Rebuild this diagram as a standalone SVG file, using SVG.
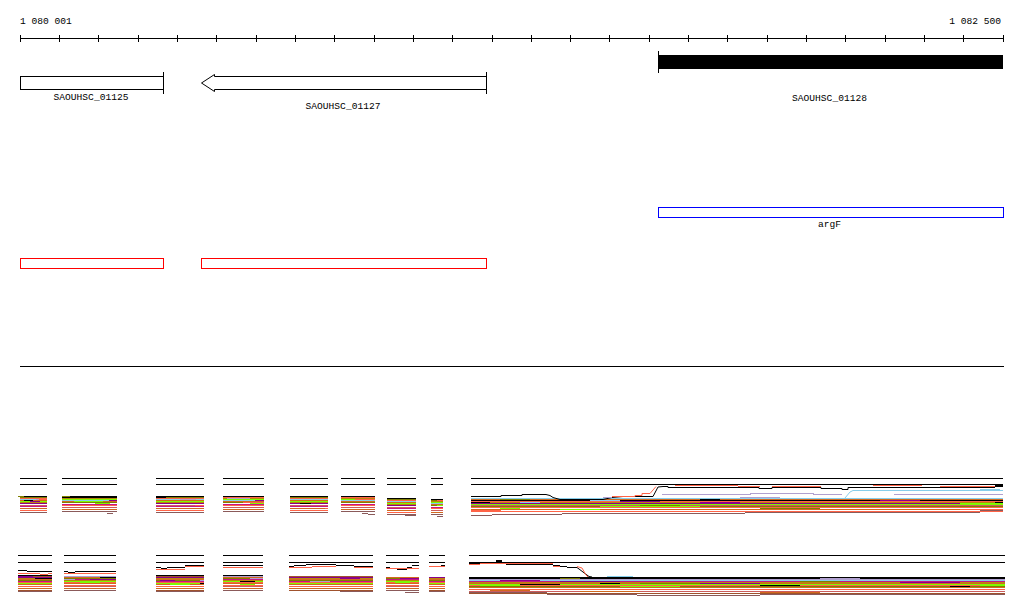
<svg xmlns="http://www.w3.org/2000/svg" width="1024" height="611" viewBox="0 0 1024 611">
<style>
text{font-family:"Liberation Mono","DejaVu Sans Mono",monospace;font-size:9.6px;fill:#000}
.c{text-anchor:middle}
.k{stroke:#000;stroke-width:1;fill:none}
.t{stroke:#ff6347;stroke-width:1;fill:none}
.lv{stroke:#b0a0d0;stroke-width:1;fill:none}
.sb{stroke:#87ceeb;stroke-width:1;fill:none}
.br{stroke:#8b5a5a;stroke-width:1;fill:none}
.g{stroke:#7cfc00;stroke-width:1;fill:none}
.ch{stroke:#d2691e;stroke-width:1;fill:none}
.pu{stroke:#8b008b;stroke-width:1;fill:none}
.ol{stroke:#808000;stroke-width:1;fill:none}
svg *{shape-rendering:crispEdges}
</style>
<defs>
<pattern id="pu1" patternUnits="userSpaceOnUse" x="0" y="496" width="4" height="30">
<rect y="0" width="4" height="1" fill="#000"/><rect y="1" width="4" height="1" fill="#808000"/><rect y="2" width="4" height="1" fill="#ff6347"/><rect y="3" width="4" height="1" fill="#87ceeb"/><rect y="4" width="4" height="1" fill="#d2691e"/><rect y="5" width="4" height="1" fill="#7cfc00"/><rect y="6" width="4" height="1" fill="#b8860b"/><rect y="7" width="4" height="1" fill="#8b008b"/><rect y="9" width="4" height="1" fill="#cd5c5c"/><rect y="10" width="4" height="1" fill="#c71585"/><rect y="12" width="4" height="1" fill="#d2691e"/><rect y="14" width="4" height="1" fill="#ff6347"/><rect y="16" width="4" height="1" fill="#8b5a5a"/>
</pattern>
<pattern id="pu2" patternUnits="userSpaceOnUse" x="0" y="496" width="4" height="30">
<rect y="0" width="4" height="1" fill="#000"/><rect y="1" width="4" height="1" fill="#ff6347"/><rect y="2" width="4" height="1" fill="#b8860b"/><rect y="3" width="4" height="1" fill="#7cfc00"/><rect y="4" width="4" height="1" fill="#87ceeb"/><rect y="5" width="4" height="1" fill="#d2691e"/><rect y="6" width="4" height="1" fill="#808000"/><rect y="8" width="4" height="1" fill="#c71585"/><rect y="9" width="4" height="1" fill="#ff6347"/><rect y="11" width="4" height="1" fill="#cd5c5c"/><rect y="13" width="4" height="1" fill="#d2691e"/><rect y="15" width="4" height="1" fill="#8b5a5a"/>
</pattern>
<pattern id="pu3" patternUnits="userSpaceOnUse" x="0" y="498" width="4" height="30">
<rect y="0" width="4" height="1" fill="#87ceeb"/><rect y="1" width="4" height="1" fill="#d2691e"/><rect y="2" width="4" height="1" fill="#000"/><rect y="3" width="4" height="1" fill="#ff6347"/><rect y="4" width="4" height="1" fill="#b8860b"/><rect y="5" width="4" height="1" fill="#8b008b"/><rect y="6" width="4" height="1" fill="#7cfc00"/><rect y="7" width="4" height="1" fill="#cd5c5c"/><rect y="8" width="4" height="1" fill="#808000"/><rect y="9" width="4" height="1" fill="#ff6347"/><rect y="11" width="4" height="1" fill="#d2691e"/><rect y="13" width="4" height="1" fill="#ff6347"/>
</pattern>
<pattern id="pl1" patternUnits="userSpaceOnUse" x="0" y="575" width="4" height="30">
<rect y="0" width="4" height="1" fill="#000"/><rect y="1" width="4" height="1" fill="#a0522d"/><rect y="2" width="4" height="1" fill="#8b008b"/><rect y="3" width="4" height="1" fill="#b8860b"/><rect y="4" width="4" height="1" fill="#d2691e"/><rect y="5" width="4" height="1" fill="#808000"/><rect y="6" width="4" height="1" fill="#c71585"/><rect y="7" width="4" height="1" fill="#ff6347"/><rect y="8" width="4" height="1" fill="#7cfc00"/><rect y="9" width="4" height="1" fill="#d2691e"/><rect y="11" width="4" height="1" fill="#ff6347"/><rect y="13" width="4" height="1" fill="#d2691e"/><rect y="15" width="4" height="1" fill="#a0522d"/><rect y="16" width="4" height="1" fill="#8b5a5a"/>
</pattern>
<pattern id="pl2" patternUnits="userSpaceOnUse" x="0" y="575" width="4" height="30">
<rect y="0" width="4" height="1" fill="#000"/><rect y="1" width="4" height="1" fill="#b0a0d0"/><rect y="2" width="4" height="1" fill="#d2691e"/><rect y="3" width="4" height="1" fill="#808000"/><rect y="4" width="4" height="1" fill="#c71585"/><rect y="5" width="4" height="1" fill="#b8860b"/><rect y="6" width="4" height="1" fill="#7cfc00"/><rect y="7" width="4" height="1" fill="#ff6347"/><rect y="8" width="4" height="1" fill="#d2691e"/><rect y="10" width="4" height="1" fill="#ff6347"/><rect y="11" width="4" height="1" fill="#cd5c5c"/><rect y="13" width="4" height="1" fill="#d2691e"/><rect y="15" width="4" height="1" fill="#8b5a5a"/>
</pattern>
<pattern id="pl3" patternUnits="userSpaceOnUse" x="0" y="579" width="4" height="30">
<rect y="0" width="4" height="1" fill="#b0a0d0"/><rect y="1" width="4" height="1" fill="#87ceeb"/><rect y="2" width="4" height="1" fill="#c71585"/><rect y="3" width="4" height="1" fill="#b8860b"/><rect y="4" width="4" height="1" fill="#d2691e"/><rect y="5" width="4" height="1" fill="#7cfc00"/><rect y="6" width="4" height="1" fill="#ff6347"/><rect y="7" width="4" height="1" fill="#808000"/><rect y="8" width="4" height="1" fill="#d2691e"/><rect y="10" width="4" height="1" fill="#ff6347"/><rect y="12" width="4" height="1" fill="#cd5c5c"/><rect y="14" width="4" height="1" fill="#a0522d"/>
</pattern>
</defs>
<rect width="1024" height="611" fill="#fff"/>

<g id="axis">
<text x="20" y="24">1 080 001</text>
<text x="1001" y="24" text-anchor="end">1 082 500</text>
<path class="k" d="M20 38.5H1003.5"/>
<path class="k" d="M20.5 35v7M59.5 35v7M98.5 35v7M138.5 35v7M177.5 35v7M216.5 35v7M256.5 35v7M295.5 35v7M334.5 35v7M374.5 35v7M413.5 35v7M452.5 35v7M492.5 35v7M531.5 35v7M570.5 35v7M609.5 35v7M649.5 35v7M688.5 35v7M727.5 35v7M767.5 35v7M806.5 35v7M845.5 35v7M885.5 35v7M924.5 35v7M963.5 35v7M1003.5 35v7"/>
</g>

<g id="connectors"></g>

<g id="gene-SAOUHSC_01125">
<rect x="20.5" y="76.5" width="143" height="13" fill="#fff" stroke="#000"/>
<path class="k" d="M163.5 72V94"/>
<text class="c" x="91" y="100">SAOUHSC_01125</text>
</g>
<g id="gene-SAOUHSC_01127">
<path d="M201.5 83L214.5 74.5V76.5H486.5V89.5H214.5V91.5Z" fill="#fff" stroke="#000" style="shape-rendering:auto"/>
<path class="k" d="M486.5 72V94"/>
<text class="c" x="343" y="109">SAOUHSC_01127</text>
</g>
<g id="gene-SAOUHSC_01128">
<rect x="658" y="55" width="345" height="14" fill="#000"/>
<path class="k" d="M658.5 51V73"/>
<text class="c" x="829.5" y="101">SAOUHSC_01128</text>
</g>
<g id="feature-argF">
<rect x="658.5" y="207.5" width="344.5" height="10" fill="none" stroke="#0000ff"/>
<text class="c" x="829.5" y="227">argF</text>
</g>
<g id="feature-red-1">
<rect x="20.5" y="258.5" width="143" height="10" fill="none" stroke="#ff0000"/>
</g>
<g id="feature-red-2">
<rect x="201.5" y="258.5" width="285" height="10" fill="none" stroke="#ff0000"/>
</g>
<g id="separator">
<path class="k" d="M20 366.5H1003.5"/>
</g>

<g id="upper-alignment">
<path class="k" d="M20 478.5H47M20 484.5H47M62 478.5H117M62 484.5H117M156 478.5H204M156 484.5H204M223 478.5H264M223 484.5H264M290 478.5H328M290 484.5H328M341 478.5H375M341 484.5H375M387 478.5H416M387 484.5H416M431 478.5H443M431 484.5H443M471 478.5H1003M471 484.5H1003"/>
<rect x="20" y="496" width="27" height="17" fill="url(#pu1)"/>
<rect x="62" y="496" width="55" height="17" fill="url(#pu2)"/>
<rect x="156" y="496" width="48" height="17" fill="url(#pu1)"/>
<rect x="223" y="496" width="41" height="17" fill="url(#pu2)"/>
<rect x="290" y="496" width="38" height="17" fill="url(#pu1)"/>
<rect x="341" y="496" width="34" height="17" fill="url(#pu2)"/>
<rect x="387" y="496" width="29" height="17" fill="url(#pu1)" transform="translate(0,2)"/>
<rect x="431" y="496" width="12" height="17" fill="url(#pu2)" transform="translate(0,3)"/>
<path class="ol" d="M18 496.5H24M62 496.5H70M321 497.5H328M431 500.5H437"/>
<path class="k" d="M62 497.5H117M156 497.5H166M166 496.5H204M387 498.5H416M24 500.5H33M300 503.5H311"/>
<path class="g" d="M74 501.5H103M250 503.5H264M95 503.5H110M400 503.5H410M437 505.5H443"/>
<path class="t" d="M39 499.5H47M67 505.5H90M195 505.5H204M243 502.5H264M355 499.5H375M325 508.5H328"/>
<path class="lv" d="M36 499.5H39M227 498.5H250M180 499.5H196"/>
<path class="pu" d="M109 500.5H117M255 500.5H264M30 501.5H40"/>
<path class="br" d="M362 513.5H368M368 514.5H375M107 513.5H113M405 515.5H416M437 516.5H443"/>

<rect x="471" y="498" width="532" height="14" fill="url(#pu3)"/>
<path class="k" d="M471 496.5H501V495.5H522V494.5H546L550 495.5L553 497.5L560 499.5H603L612 497.5L623 496.5H653L658 487L663 486.5H668V487.5H759V488.5H772V487.5H821V488.5H842V489.5H848V487.5H995" style="shape-rendering:auto"/>
<rect x="995" y="484.5" width="8" height="2" fill="#000"/>
<path class="t" d="M612 496.5H635V495.5H642V493.5H650L656 486.5" style="shape-rendering:auto"/>
<path class="t" d="M675 485.5H738M738 486.5H760M772 486.5H821M873 485.5H922M940 486.5H995"/>
<path class="lv" d="M603 497.5H612M662 494.5H750V493.5H813V494.5H842M894 494.5H1003M740 497.5H780"/>
<path class="sb" d="M845 498L850 492L853 490.5H1003" style="shape-rendering:auto"/>
<path class="sb" d="M980 489.5H1000M590 500.5H620M520 502.5H540"/>
<path class="g" d="M600 506.5H700M740 504.5H800M960 503.5H1003M500 508.5H520M560 509.5H600"/>
<path class="pu" d="M620 501.5H660M700 502.5H740M880 500.5H920"/>
<path class="ol" d="M500 499.5H530M640 505.5H680M760 508.5H820"/>
<path class="k" d="M471 502.5H490M700 499.5H720M940 500.5H960M995 502.5H1003"/>
<path class="t" d="M471 510.5H501M501 511.5H560M700 511.5H790M960 509.5H1003"/>
<path class="br" d="M471 515.5H492M492 514.5H562M562 513.5H745M745 512.5H980M980 510.5H1003"/>
</g>

<g id="lower-alignment">
<path class="k" d="M18 555.5H52M18 562.5H52M64 555.5H116M64 562.5H116M156 555.5H204M156 562.5H204M223 555.5H263M223 562.5H263M289 555.5H373M289 562.5H373M386 555.5H419M386 562.5H419M429 555.5H445M429 562.5H445M469 555.5H1005M469 562.5H1005"/>
<path class="k" d="M18 570.5H27M27 571.5H52M64 571.5H68M68 572.5H75M75 571.5H116M156 567.5H161M161 568.5H167M167 567.5H185M185 565.5H204M223 565.5H263M289 566.5H294M294 565.5H306M306 564.5H336M336 565.5H354M354 566.5H373M386 567.5H390M390 568.5H397M397 569.5H407M407 567.5H412M412 565.5H419M441 565.5H445"/>
<path class="t" d="M18 573.5H40M40 574.5H48M48 573.5H52M64 573.5H116M156 569.5H185M185 566.5H204M223 567.5H263M289 567.5H312M312 566.5H336M354 567.5H373M386 568.5H419M429 566.5H445"/>
<rect x="18" y="575" width="34" height="17" fill="url(#pl1)"/>
<rect x="64" y="576" width="52" height="16" fill="url(#pl2)"/>
<rect x="156" y="575" width="48" height="17" fill="url(#pl1)"/>
<rect x="223" y="575" width="40" height="16" fill="url(#pl2)"/>
<rect x="289" y="576" width="84" height="15" fill="url(#pl1)"/>
<rect x="386" y="577" width="33" height="15" fill="url(#pl2)"/>
<rect x="429" y="577" width="16" height="15" fill="url(#pl1)"/>
<path class="g" d="M30 583.5H45M80 582.5H100M170 584.5H190M300 583.5H330M395 582.5H410M240 584.5H255"/>
<path class="pu" d="M18 576.5H33M90 579.5H116M160 580.5H175M340 578.5H360M400 578.5H419"/>
<path class="lv" d="M200 580.5H204M64 579.5H75M310 581.5H330M250 578.5H263"/>
<path class="k" d="M35 578.5H52M100 577.5H116M200 583.5H204M240 581.5H255"/>
<path class="br" d="M40 591.5H52M100 590.5H116M340 591.5H373M405 592.5H419"/>

<rect x="469" y="562" width="11" height="2" fill="#000"/>
<rect x="496" y="560" width="6" height="1.5" fill="#000"/>
<path class="t" d="M469 564.5H480M480 563.5H553M553 566.5H560"/>
<path class="k" d="M506 564.5H553M553 565.5H560M560 566.5H567M567 567.5H577"/>
<path class="k" d="M577 567.5L589 576.5L592 577" style="shape-rendering:auto"/>
<path class="t" d="M577 566.5L582 568L586 575L589 578" style="shape-rendering:auto"/>
<path class="sb" d="M607 576.5H633M865 578.5H877"/>
<rect x="469" y="576.5" width="536" height="2" fill="#000"/>
<rect x="469" y="579" width="536" height="16" fill="url(#pl3)"/>
<path class="pu" d="M500 580.5H540M560 581.5H620M700 583.5H760M900 582.5H960"/>
<path class="g" d="M480 585.5H520M620 586.5H680M840 584.5H900M980 585.5H1005"/>
<path class="k" d="M520 584.5H560M760 585.5H800M600 583.5H620M950 586.5H970"/>
<path class="ol" d="M560 578.5H580M640 583.5H700M800 581.5H840"/>
<path class="lv" d="M820 578.5H860M960 579.5H1005M700 579.5H760"/>
<path class="ch" d="M490 590.5H530M580 591.5H640M760 592.5H820"/>
<path class="br" d="M469 592.5H547M547 594.5H637M637 595.5H760M760 594.5H1005"/>
</g>
</svg>
